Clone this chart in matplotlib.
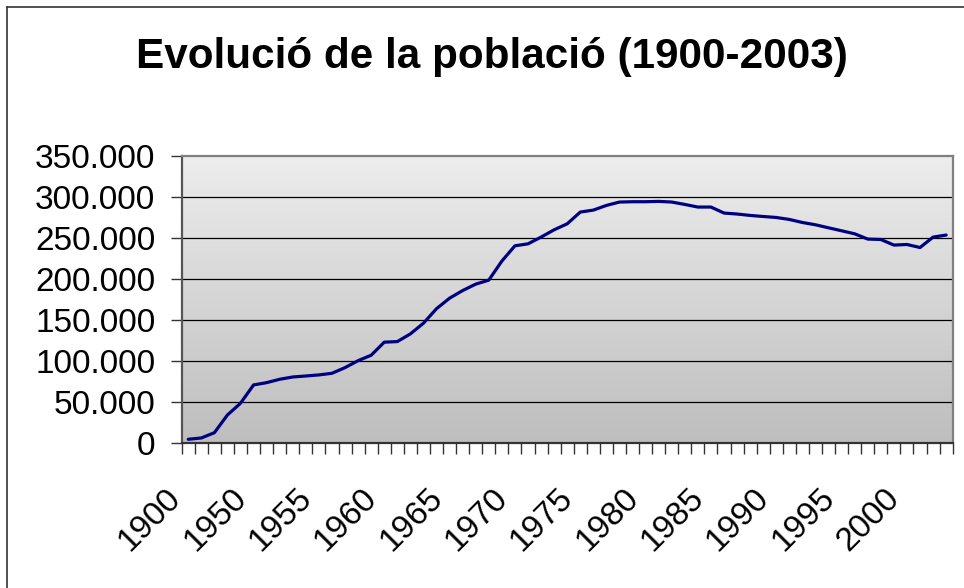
"""
Evolució de la població (1900-2003), Excel-style line chart.
"""

import matplotlib

matplotlib.use("Agg")

import matplotlib.pyplot as plt
import matplotlib.transforms as mtransforms
import numpy as np
from matplotlib.colors import LinearSegmentedColormap
from matplotlib.lines import Line2D
from matplotlib.ticker import FuncFormatter

YEARS = ["1900", "1910", "1920", "1930", "1940"] + [str(y) for y in range(1950, 2004)]

POPULATION = [
    4900, 6500, 12900, 34500, 48800,
    71100, 73900, 78000, 80800, 82000,
    83300, 85300, 92200, 100700, 107300,
    123200, 123900, 133300, 146300, 164000,
    176800, 186100, 193900, 198800, 222000,
    240600, 243000, 251200, 260100, 267400,
    281700, 284100, 289800, 293900, 294300,
    294300, 294700, 293900, 291000, 287800,
    287800, 280500, 279300, 277600, 276300,
    275100, 272700, 269000, 266200, 262500,
    258900, 255200, 248800, 248300, 241500,
    242200, 238500, 251200, 253700,
]

TITLE = "Evolució de la població (1900-2003)"
Y_TICKS = [0, 50000, 100000, 150000, 200000, 250000, 300000, 350000]
LABEL_EVERY = 5

LINE_COLOR = "#000080"
BORDER_COLOR = "#808080"
TEXT_COLOR = "#000000"

plt.rcParams["font.family"] = ["Liberation Sans", "DejaVu Sans"]

W, H = 964, 588
fig = plt.figure(figsize=(W / 100, H / 100), dpi=100)
fig.patch.set_facecolor("white")

left, right, top, bottom = 181.7, 952.7, 156.0, 443.3
ax = fig.add_axes([left / W, 1 - bottom / H, (right - left) / W, (bottom - top) / H])

# gradient background of the plot area
grad = np.linspace(0, 1, 256).reshape(-1, 1)
cmap = LinearSegmentedColormap.from_list("bg", ["#BEBEBE", "#EDEDED"])
ax.imshow(grad, extent=[0, 1, 0, 1], transform=ax.transAxes, aspect="auto",
          cmap=cmap, origin="lower", zorder=0)

x = np.arange(len(YEARS))
ax.set_xlim(-0.5, len(YEARS) - 0.5)
ax.set_ylim(0, 350000)

for v in Y_TICKS[1:-1]:
    ax.axhline(v, color="#000000", linewidth=0.9, zorder=1)

ax.plot(x, POPULATION, color=LINE_COLOR, linewidth=2.3, zorder=3,
        solid_joinstyle="round", solid_capstyle="round")

# ticks between categories, labels on every fifth category
ax.set_xticks(np.arange(-0.5, len(YEARS), 1.0))
ax.set_xticklabels([])
label_pos = x[::LABEL_EVERY]
ax.set_xticks(label_pos, minor=True)
ax.set_xticklabels([YEARS[i] for i in label_pos], minor=True, rotation=45,
                   ha="right", va="center", rotation_mode="anchor", fontsize=24)
ax.tick_params(axis="x", which="major", direction="out", length=8,
               width=1.0, color="#333333")
ax.tick_params(axis="x", which="minor", length=0, pad=36, labelcolor=TEXT_COLOR)
shift = mtransforms.ScaledTranslation(-0.12, 0, fig.dpi_scale_trans)
for lab in ax.get_xticklabels(minor=True):
    lab.set_transform(lab.get_transform() + shift)

ax.set_yticks(Y_TICKS)
ax.yaxis.set_major_formatter(
    FuncFormatter(lambda v, _: f"{int(v):,}".replace(",", "."))
)
ax.tick_params(axis="y", direction="out", length=8, width=1.0,
               color="#333333", pad=11, labelsize=24, labelcolor=TEXT_COLOR)

for side in ("top", "right", "left"):
    ax.spines[side].set_color(BORDER_COLOR)
    ax.spines[side].set_linewidth(1.6)
ax.spines["left"].set_color("#555555")
ax.spines["bottom"].set_color("#333333")
ax.spines["bottom"].set_linewidth(1.6)
for sp in ax.spines.values():
    sp.set_zorder(4)

fig.text(491.5 / W, 1 - 57 / H, TITLE, ha="center", va="center",
         fontsize=30.4, fontweight="bold", color=TEXT_COLOR)

# outer chart-area frame (only top and left edges fall inside the image)
fx, fy = 7.0 / W, 1 - 6.5 / H
fig.add_artist(Line2D([fx, fx], [0, fy], transform=fig.transFigure,
                      color="#333333", linewidth=1.2))
fig.add_artist(Line2D([fx, 1], [fy, fy], transform=fig.transFigure,
                      color="#333333", linewidth=1.2))

fig.savefig("out.png", dpi=100, facecolor="white")
